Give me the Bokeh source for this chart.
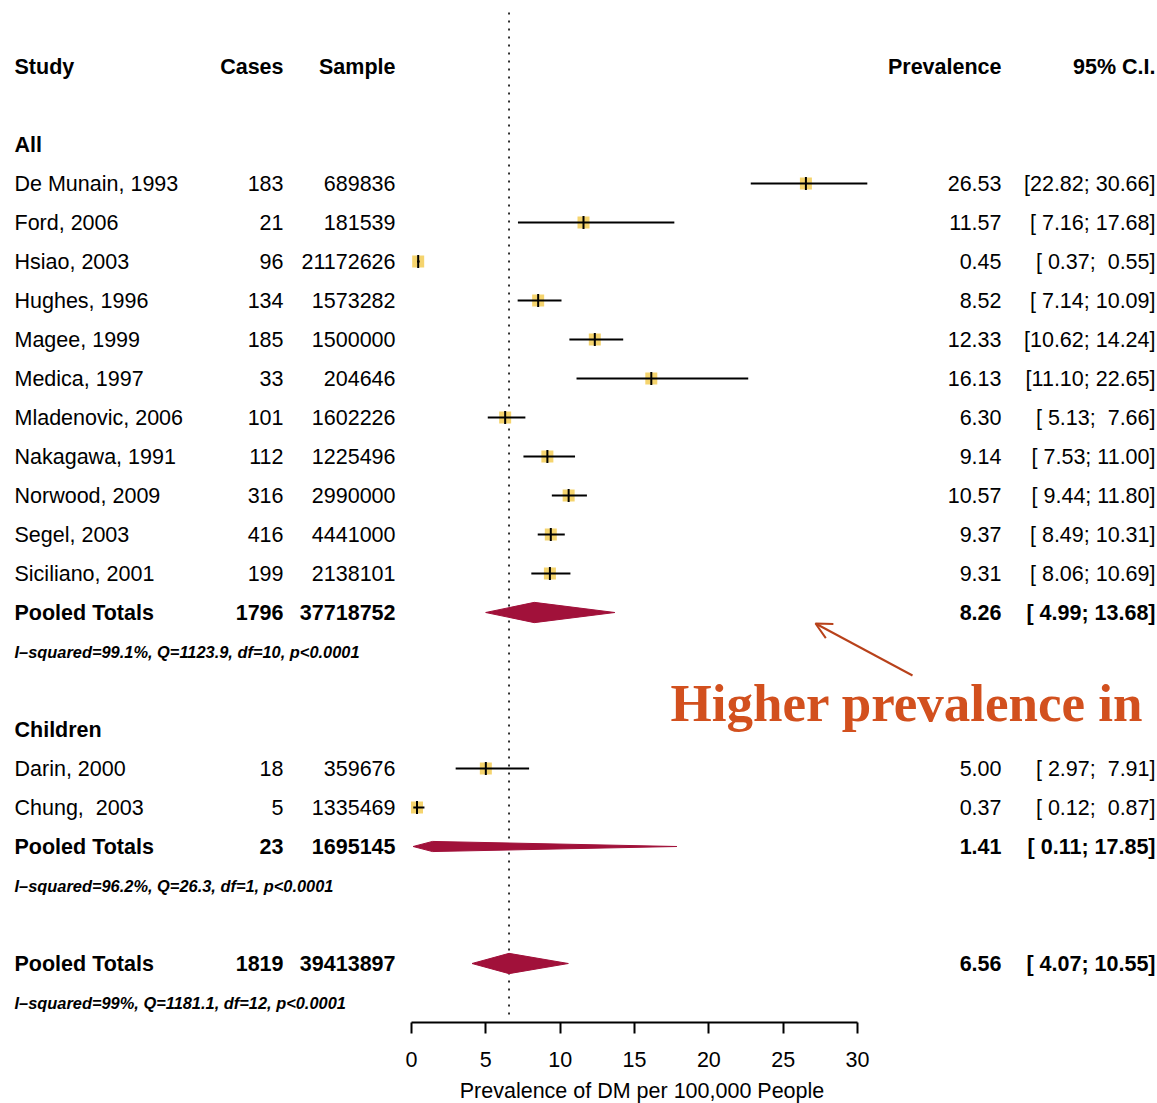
import math
from bokeh.plotting import figure
from bokeh.models import Range1d, LinearAxis, FixedTicker, Arrow, OpenHead, ColumnDataSource
from bokeh.core.properties import value
from bokeh.embed import file_html
from bokeh.resources import INLINE

# ---------------- data ----------------
all_studies = ["De Munain, 1993", "Ford, 2006", "Hsiao, 2003", "Hughes, 1996", "Magee, 1999",
               "Medica, 1997", "Mladenovic, 2006", "Nakagawa, 1991", "Norwood, 2009",
               "Segel, 2003", "Siciliano, 2001"]
all_cases = [183, 21, 96, 134, 185, 33, 101, 112, 316, 416, 199]
all_samples = [689836, 181539, 21172626, 1573282, 1500000, 204646, 1602226, 1225496, 2990000, 4441000, 2138101]
all_prev = [26.53, 11.57, 0.45, 8.52, 12.33, 16.13, 6.30, 9.14, 10.57, 9.37, 9.31]
all_lo = [22.82, 7.16, 0.37, 7.14, 10.62, 11.10, 5.13, 7.53, 9.44, 8.49, 8.06]
all_hi = [30.66, 17.68, 0.55, 10.09, 14.24, 22.65, 7.66, 11.00, 11.80, 10.31, 10.69]
all_pooled = {"cases": 1796, "sample": 37718752, "prev": 8.26, "lo": 4.99, "hi": 13.68,
              "het": "I–squared=99.1%, Q=1123.9, df=10, p<0.0001"}

child_studies = ["Darin, 2000", "Chung,  2003"]
child_cases = [18, 5]
child_samples = [359676, 1335469]
child_prev = [5.00, 0.37]
child_lo = [2.97, 0.12]
child_hi = [7.91, 0.87]
child_pooled = {"cases": 23, "sample": 1695145, "prev": 1.41, "lo": 0.11, "hi": 17.85,
                "het": "I–squared=96.2%, Q=26.3, df=1, p<0.0001"}

overall_pooled = {"cases": 1819, "sample": 39413897, "prev": 6.56, "lo": 4.07, "hi": 10.55,
                  "het": "I–squared=99%, Q=1181.1, df=12, p<0.0001"}

group_labels = ["All", "Children"]
x_ticks = [0, 5, 10, 15, 20, 25, 30]
x_label = "Prevalence of DM per 100,000 People"
headers = ["Study", "Cases", "Sample", "Prevalence", "95% C.I."]
annotation = "Higher prevalence in"

# ---------------- layout helpers ----------------
W, H = 1157, 1103
px0, px30 = 411.0, 857.0
k = (px30 - px0) / 30.0          # px per unit
row_px0, row_step = 66.0, 39.0  # pixel of row 0, pixel per row

def xd(px):
    return (px - px0) / k

def yr(py):
    return (py - row_px0) / row_step

def keep_spaces(s):
    # keep runs of spaces visible in SVG text
    return s.replace("  ", " \u00a0")

FONT = "Liberation Sans"
FS = "21.5px"
SQ = "#F5D46E"
DIA = "#A1113A"

p = figure(frame_width=W, frame_height=H, output_backend="svg", toolbar_location=None,
           x_range=Range1d(xd(0), xd(W)), y_range=Range1d(yr(H), yr(0)),
           min_border=0, x_axis_location=None, y_axis_location=None)
p.outline_line_color = None
p.xgrid.visible = False
p.ygrid.visible = False
p.background_fill_color = "white"
p.border_fill_color = "white"

col_study = xd(14)
col_cases = xd(283)
col_sample = xd(395)
col_prev = xd(1001)
col_ci = xd(1155)

def ci_str(lo, hi):
    return keep_spaces("[%5.2f; %5.2f]" % (lo, hi))

def txt(x, y, s, align="left", bold=False, italic=False, size=FS):
    style = "normal"
    if bold and italic:
        style = "bold italic"
    elif bold:
        style = "bold"
    elif italic:
        style = "italic"
    p.text(x=[x], y=[y], text=[s], text_align=align, text_baseline="middle",
           text_font=value(FONT), text_font_size=size, text_font_style=style, text_color="black")

# headers
txt(col_study, 0, headers[0], bold=True)
txt(col_cases, 0, headers[1], "right", bold=True)
txt(col_sample, 0, headers[2], "right", bold=True)
txt(col_prev, 0, headers[3], "right", bold=True)
txt(col_ci, 0, headers[4], "right", bold=True)

groups = [
    (group_labels[0], all_studies, all_cases, all_samples, all_prev, all_lo, all_hi, all_pooled, 0.26),
    (group_labels[1], child_studies, child_cases, child_samples, child_prev, child_lo, child_hi, child_pooled, 0.13),
]

HET_FS = "16.4px"
row = 2
study_rows, sp, slo, shi = [], [], [], []
diamonds_x, diamonds_y = [], []
for label, names, cases, samples, prev, lo, hi, pooled, hh in groups:
    txt(col_study, row, label, bold=True)
    row += 1
    for i in range(len(names)):
        txt(col_study, row, keep_spaces(names[i]))
        txt(col_cases, row, str(cases[i]), "right")
        txt(col_sample, row, str(samples[i]), "right")
        txt(col_prev, row, "%.2f" % prev[i], "right")
        txt(col_ci, row, ci_str(lo[i], hi[i]), "right")
        study_rows.append(row)
        sp.append(prev[i]); slo.append(lo[i]); shi.append(hi[i])
        row += 1
    txt(col_study, row, "Pooled Totals", bold=True)
    txt(col_cases, row, str(pooled["cases"]), "right", bold=True)
    txt(col_sample, row, str(pooled["sample"]), "right", bold=True)
    txt(col_prev, row, "%.2f" % pooled["prev"], "right", bold=True)
    txt(col_ci, row, ci_str(pooled["lo"], pooled["hi"]), "right", bold=True)
    diamonds_x.append([pooled["lo"], pooled["prev"], pooled["hi"], pooled["prev"]])
    diamonds_y.append([row, row - hh, row, row + hh])
    row += 1
    txt(col_study, row, pooled["het"], bold=True, italic=True, size=HET_FS)
    row += 2

# overall
txt(col_study, row, "Pooled Totals", bold=True)
txt(col_cases, row, str(overall_pooled["cases"]), "right", bold=True)
txt(col_sample, row, str(overall_pooled["sample"]), "right", bold=True)
txt(col_prev, row, "%.2f" % overall_pooled["prev"], "right", bold=True)
txt(col_ci, row, ci_str(overall_pooled["lo"], overall_pooled["hi"]), "right", bold=True)
diamonds_x.append([overall_pooled["lo"], overall_pooled["prev"], overall_pooled["hi"], overall_pooled["prev"]])
diamonds_y.append([row, row - 0.26, row, row + 0.26])
row += 1
txt(col_study, row, overall_pooled["het"], bold=True, italic=True, size=HET_FS)

# reference dotted line at overall estimate
p.line(x=[overall_pooled["prev"], overall_pooled["prev"]], y=[yr(12), yr(1016)],
       line_color="black", line_width=1.6, line_dash="2 6")

# study markers
src = ColumnDataSource(dict(y=study_rows, x=sp, lo=slo, hi=shi))
p.scatter(x="x", y="y", source=src, marker="square", size=12, fill_color=SQ, line_color=None)
p.segment(x0="lo", x1="hi", y0="y", y1="y", source=src, line_color="black", line_width=2)
p.scatter(x="x", y="y", source=src, marker="dash", angle=math.pi / 2, size=13,
          line_color="black", line_width=2)

# diamonds
p.patches(xs=diamonds_x, ys=diamonds_y, fill_color=DIA, line_color=DIA, line_width=1)

# bottom axis, drawn at a fixed location inside the frame
ax = LinearAxis(bounds=(0, 30), ticker=FixedTicker(ticks=x_ticks), fixed_location=yr(1022))
ax.axis_line_width = 2
ax.axis_line_color = "black"
ax.major_tick_line_width = 2
ax.major_tick_out = 11
ax.major_tick_in = 0
ax.minor_tick_out = 0
ax.minor_tick_in = 0
ax.major_label_text_font = FONT
ax.major_label_text_font_size = FS
ax.major_label_text_color = "black"
ax.major_label_standoff = 18
p.add_layout(ax, "below")

# axis title centred under the 0-30 scale
p.text(x=[xd(641.5)], y=[yr(1090)], text=[x_label], text_align="center", text_baseline="middle",
       text_font=value(FONT), text_font_size=FS, text_color="black")

# annotation
p.text(x=[xd(670)], y=[yr(702)], text=[annotation], text_align="left", text_baseline="alphabetic",
       text_font=value("Liberation Serif"), text_font_size="53px", text_font_style="bold",
       text_color="#D2501E")
p.add_layout(Arrow(x_start=xd(912), y_start=yr(675), x_end=xd(815), y_end=yr(623),
                   line_color="#B8411A", line_width=2,
                   end=OpenHead(size=16, line_color="#B8411A", line_width=2)))

open("out.html", "w").write(file_html(p, INLINE))
